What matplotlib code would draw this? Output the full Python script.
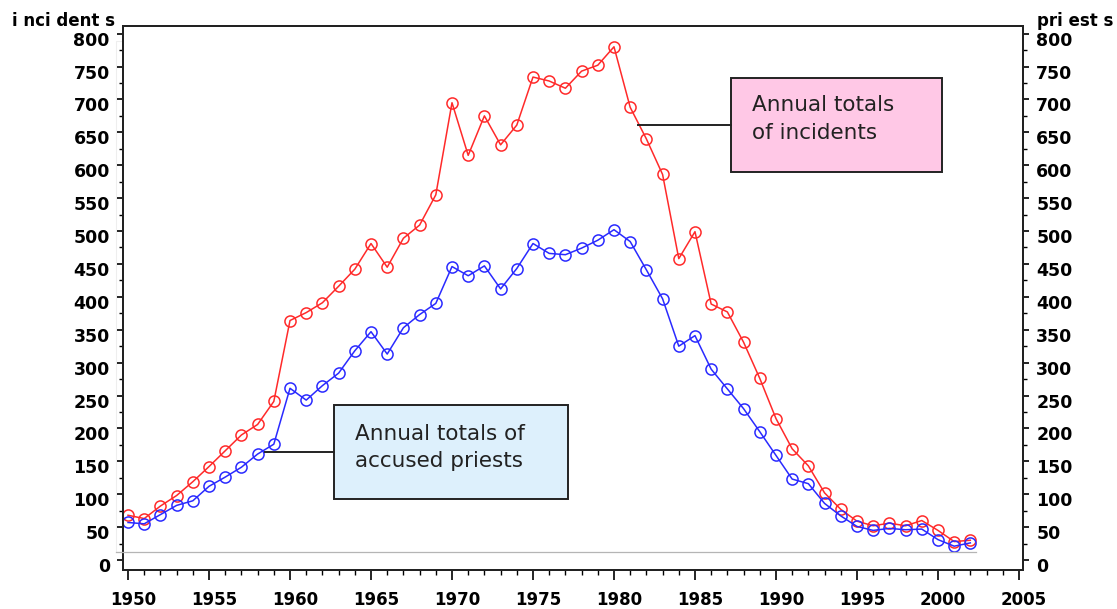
import matplotlib
matplotlib.use("Agg")
import matplotlib.pyplot as plt
import matplotlib.transforms as mtransforms
from matplotlib.patches import Rectangle
from matplotlib.lines import Line2D
from matplotlib.ticker import MultipleLocator

# Data
years = list(range(1950, 2003))
incidents = [68, 63, 82, 98, 119, 142, 166, 190, 206, 241,
             364, 376, 391, 416, 442, 481, 445, 489, 509, 555,
             695, 615, 675, 631, 661, 734, 728, 717, 743, 752,
             780, 688, 640, 586, 458, 499, 389, 377, 331, 276,
             215, 169, 143, 102, 77, 59, 52, 56, 52, 60,
             45, 28, 30]
priests = [57, 55, 69, 83, 90, 112, 126, 141, 161, 176,
           261, 243, 265, 284, 318, 347, 313, 353, 373, 390,
           446, 432, 447, 412, 443, 481, 466, 464, 474, 486,
           502, 484, 441, 397, 325, 341, 290, 260, 230, 195,
           159, 123, 116, 86, 67, 51, 45, 48, 46, 47,
           31, 21, 26]
x_ticks = [1950, 1955, 1960, 1965, 1970, 1975, 1980, 1985, 1990, 1995, 2000, 2005]
y_ticks = [0, 50, 100, 150, 200, 250, 300, 350, 400, 450, 500, 550, 600, 650, 700, 750, 800]

W, H = 1117, 609
fig = plt.figure(figsize=(W / 100, H / 100), dpi=100)
ax = fig.add_axes([123 / W, 1 - 570 / H, 900 / W, 544 / H])

# faint inner frame of the original plot area
fig.add_artist(Rectangle((116 / W, 1 - 552 / H), 860 / W, 511 / H, transform=fig.transFigure,
                         fill=False, edgecolor='#eeeeee', linewidth=0.8, zorder=0))
fig.add_artist(Line2D([116 / W, 976 / W], [1 - 552 / H, 1 - 552 / H], transform=fig.transFigure,
                      color='#b5b5b5', linewidth=0.9, zorder=5))

ax.plot(years, incidents, color='#ff2a2a', linewidth=1.1, marker='o', markersize=8,
        markerfacecolor='none', markeredgecolor='#ff2a2a', markeredgewidth=1.1, zorder=3)
ax.plot(years, priests, color='#2a2aff', linewidth=1.1, marker='o', markersize=8,
        markerfacecolor='none', markeredgecolor='#2a2aff', markeredgewidth=1.1, zorder=3)

ax.set_xlim(1949.69, 2005.25)
ax.set_ylim(-15.2, 811.6)

ax2 = ax.twinx()
ax2.set_ylim(ax.get_ylim())

for a in (ax, ax2):
    for s in a.spines.values():
        s.set_linewidth(1.4)
        s.set_color('#222222')
    a.set_yticks(y_ticks)
    a.yaxis.set_minor_locator(MultipleLocator(25))
    a.tick_params(axis='y', which='major', length=4.5, width=1.2, labelsize=12.5, pad=5)
    a.tick_params(axis='y', which='minor', length=3, width=1.0)
    for lab in a.get_yticklabels():
        lab.set_fontweight('bold')
        lab.set_transform(lab.get_transform() +
                          mtransforms.ScaledTranslation(0, -0.05, fig.dpi_scale_trans))

ax.set_xticks(x_ticks)
ax.xaxis.set_minor_locator(MultipleLocator(1))
ax.tick_params(axis='x', which='major', length=7.2, width=1.2, labelsize=12, pad=8)
ax.tick_params(axis='x', which='minor', length=3.6, width=1.0)
for lab in ax.get_xticklabels():
    lab.set_fontweight('bold')
    lab.set_transform(lab.get_transform() +
                      mtransforms.ScaledTranslation(0.05, 0, fig.dpi_scale_trans))

fig.text(12 / W, 1 - 21 / H, 'i nci dent s', fontsize=12, fontweight='bold', va='center', ha='left')
fig.text(1037 / W, 1 - 21 / H, 'pri est s', fontsize=12, fontweight='bold', va='center', ha='left')

# annotation boxes
fig.add_artist(Rectangle((731 / W, 1 - 172 / H), 211 / W, 94 / H, transform=fig.transFigure,
                         facecolor='#ffc8e6', edgecolor='#222222', linewidth=1.4, zorder=6))
fig.add_artist(Line2D([638 / W, 731 / W], [1 - 125 / H, 1 - 125 / H], transform=fig.transFigure,
                      color='#222222', linewidth=1.4, zorder=6))
fig.text(752 / W, 1 - 119 / H, 'Annual totals\nof incidents', fontsize=15.5, va='center', ha='left',
         color='#222222', linespacing=1.45, zorder=7)

fig.add_artist(Rectangle((334 / W, 1 - 499 / H), 234 / W, 94 / H, transform=fig.transFigure,
                         facecolor='#ddf0fc', edgecolor='#222222', linewidth=1.4, zorder=6))
fig.add_artist(Line2D([265 / W, 334 / W], [1 - 452 / H, 1 - 452 / H], transform=fig.transFigure,
                      color='#222222', linewidth=1.4, zorder=6))
fig.text(355 / W, 1 - 447.5 / H, 'Annual totals of\naccused priests', fontsize=15.5, va='center', ha='left',
         color='#222222', linespacing=1.45, zorder=7)

fig.savefig('out.png', dpi=100)
